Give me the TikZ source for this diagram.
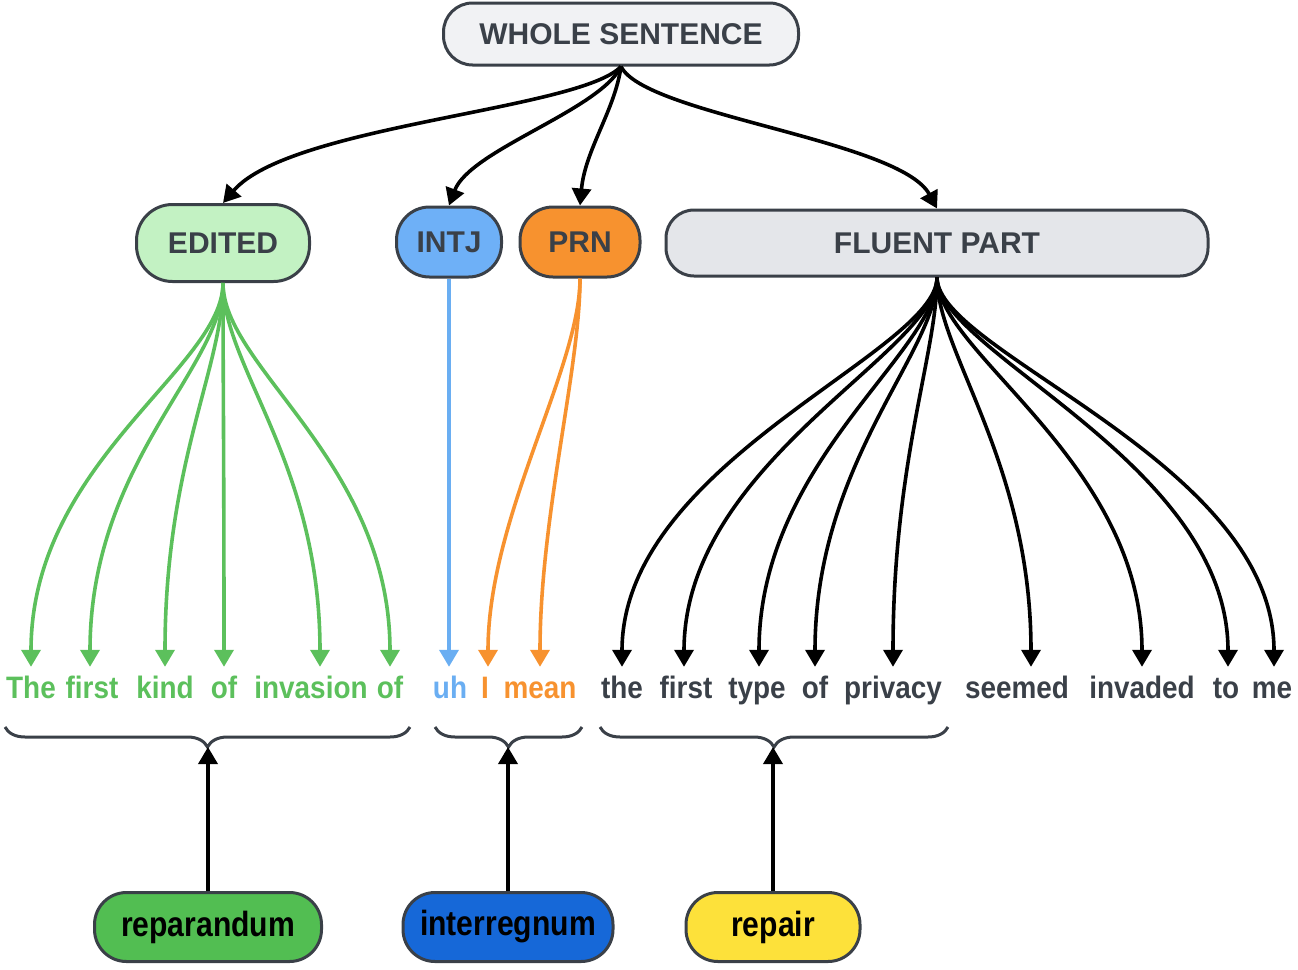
\documentclass[tikz,border=0pt]{standalone}
\usepackage{fontspec}
\setmainfont{Liberation Sans}
\newfontfamily\narrowfont[FakeStretch=0.9]{Liberation Sans}
\newfontfamily\botfont[FakeStretch=0.86]{Liberation Sans}
\usetikzlibrary{arrows.meta,decorations.pathreplacing,calc}
\definecolor{ink}{HTML}{3A4048}
\definecolor{gtxt}{HTML}{5CC05C}
\definecolor{gfill}{HTML}{C3F2C3}
\definecolor{btxt}{HTML}{6AAEF2}
\definecolor{bfill}{HTML}{6EB0F7}
\definecolor{otxt}{HTML}{F7922F}
\definecolor{wsfill}{HTML}{F1F2F4}
\definecolor{fpfill}{HTML}{E4E6EA}
\definecolor{repfill}{HTML}{52BE52}
\definecolor{intfill}{HTML}{1668D8}
\definecolor{yfill}{HTML}{FDE13A}
\begin{document}
\begin{tikzpicture}[x=1pt,y=-1pt,
  pill/.style={draw=ink, line width=3pt, inner sep=0pt, text=ink,
    font=\bfseries\fontsize{30}{32}\selectfont},
  bot/.style={draw=ink, line width=3pt, inner sep=0pt, text=black,
    minimum height=69pt, rounded corners=32pt,
    font=\botfont\bfseries\fontsize{35}{37}\selectfont},
  word/.style={font=\narrowfont\bfseries\fontsize{31}{33}\selectfont, inner xsep=0pt,
    inner ysep=9pt, text height=22pt, text depth=6pt, anchor=base},
  arr/.style={line width=3.6pt, -{Triangle[width=19pt,length=17pt]}},
  brc/.style={draw=ink, line width=3pt, decorate,
    decoration={brace, mirror, amplitude=20pt}}
]
\useasboundingbox (0,0) rectangle (1298,969);

% header nodes
\node[pill, fill=wsfill, minimum width=355pt, minimum height=62pt, rounded corners=29pt] (ws) at (621,34) {WHOLE SENTENCE};
\node[pill, fill=gfill, minimum width=173pt, minimum height=77pt, rounded corners=36pt] (ed) at (223,243) {EDITED};
\node[pill, fill=bfill, minimum width=105pt, minimum height=70pt, rounded corners=33pt] (ij) at (449,242) {INTJ};
\node[pill, fill=otxt, minimum width=120pt, minimum height=70pt, rounded corners=33pt] (pr) at (580,242) {PRN};
\node[pill, fill=fpfill, minimum width=542pt, minimum height=66pt, rounded corners=28pt] (fp) at (937,243) {FLUENT PART};

% words
\begin{scope}[every node/.style={word}]
\node[text=gtxt] (g1) at (31,698) {The};
\node[text=gtxt] (g2) at (92,698) {first};
\node[text=gtxt] (g3) at (165,698) {kind};
\node[text=gtxt] (g4) at (224,698) {of};
\node[text=gtxt] (g5) at (311,698) {invasion};
\node[text=gtxt] (g6) at (390,698) {of};
\node[text=btxt] (u1) at (450,698) {uh};
\node[text=otxt] (o1) at (485,698) {I};
\node[text=otxt] (o2) at (540,698) {mean};
\node[text=ink] (f1) at (622,698) {the};
\node[text=ink] (f2) at (686,698) {first};
\node[text=ink] (f3) at (757,698) {type};
\node[text=ink] (f4) at (815,698) {of};
\node[text=ink] (f5) at (893,698) {privacy};
\node[text=ink] (f6) at (1017,698) {seemed};
\node[text=ink] (f7) at (1142,698) {invaded};
\node[text=ink] (f8) at (1226,698) {to};
\node[text=ink] (f9) at (1272,698) {me};
\end{scope}

% top arrows
\draw[arr] (ws.south) .. controls (580,110) and (290,125) .. (ed.north);
\draw[arr] (ws.south) .. controls (600,110) and (470,150) .. (ij.north);
\draw[arr] (ws.south) .. controls (615,110) and (585,150) .. (pr.north);
\draw[arr] (ws.south) .. controls (645,115) and (900,140) .. (fp.north);

% green fan
\foreach \w/\dx in {g1/0,g2/-2,g3/0,g4/0,g5/9,g6/0}
  \draw[arr, color=gtxt] (ed.south) .. controls +(0,85) and +(0,-205) .. ([xshift=\dx pt]\w.north);

% blue
\draw[arr, color=btxt] (ij.south) -- (ij.south |- u1.north);

% orange
\draw[arr, color=otxt] (pr.south) .. controls +(0,90) and +(0,-150) .. ([xshift=3pt]o1.north);
\draw[arr, color=otxt] (pr.south) .. controls +(0,90) and +(0,-150) .. (o2.north);

% fluent fan
\foreach \w/\dx in {f1/0,f2/-2,f3/2,f4/0,f5/0,f6/14,f7/0,f8/2,f9/2}
  \draw[arr] (fp.south) .. controls +(0,75) and +(0,-205) .. ([xshift=\dx pt]\w.north);

% braces
\coordinate (b1l) at (5,727);   \coordinate (b1r) at (410,727);
\coordinate (b2l) at (435,727); \coordinate (b2r) at (582,727);
\coordinate (b3l) at (600,727); \coordinate (b3r) at (948,727);
\draw[brc] (b1l) -- (b1r);
\draw[brc] (b2l) -- (b2r);
\draw[brc] (b3l) -- (b3r);
\coordinate (t1) at (207.5,747);
\coordinate (t2) at (508.5,747);
\coordinate (t3) at (774,747);

% bottom nodes
\node[bot, fill=repfill, minimum width=227pt] (rep) at (208,927) {reparandum};
\node[bot, fill=intfill, minimum width=210pt] (int) at (508,927) {interregnum};
\node[bot, fill=yfill, minimum width=174pt] (rpr) at (773,927) {repair};

\draw[arr] (rep.north) -- (rep.north |- t1);
\draw[arr] (int.north) -- (int.north |- t2);
\draw[arr] (rpr.north) -- (rpr.north |- t3);
\end{tikzpicture}
\end{document}
